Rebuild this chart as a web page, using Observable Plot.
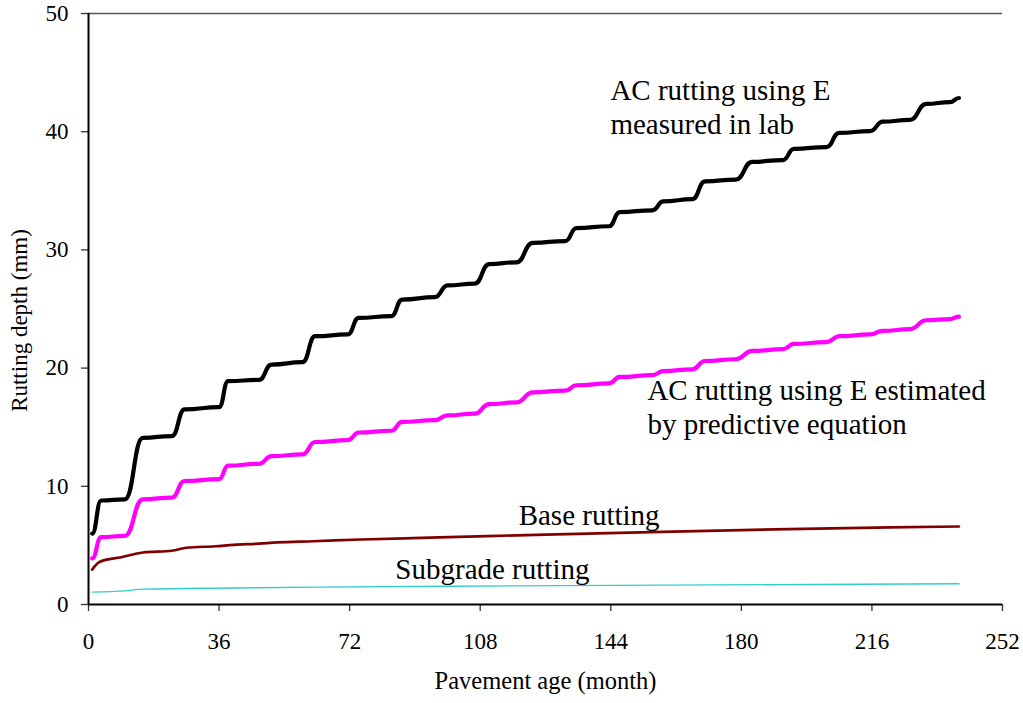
<!DOCTYPE html>
<html>
<head>
<meta charset="utf-8">
<script src="https://cdn.jsdelivr.net/npm/d3@7"></script>
<script src="https://cdn.jsdelivr.net/npm/@observablehq/plot@0.6"></script>
<style>
  html, body { margin: 0; padding: 0; background: #fff; }
  #chart svg { display: block; }
</style>
</head>
<body>
<div id="chart"></div>
<script>
// Rutting depth (mm) against pavement age (month).
// The AC layer curves rise mostly during each summer and level off in between,
// so each year is described by the start and end of its flat stretch.
const acMonths = [1, 3.5, 10, 15, 23, 26.5, 36, 38.5, 47, 50.5, 59, 62.5, 71.5, 74.5,
  83.5, 86.5, 95.5, 99, 106.5, 110.5, 118, 122.5, 131.5, 134.5, 143.5, 146.5,
  155.5, 158.5, 166.5, 170, 178.5, 183, 191.5, 194.5, 203.5, 207, 215.5, 219,
  226.5, 231, 237.5, 240];

const acLab = [6.0, 8.8, 8.9, 14.1, 14.25, 16.5, 16.7, 18.9, 19.0, 20.3, 20.5, 22.7, 22.85, 24.25,
  24.4, 25.8, 26.0, 27.0, 27.15, 28.8, 28.95, 30.6, 30.75, 31.85, 32.0, 33.2,
  33.35, 34.1, 34.3, 35.8, 35.95, 37.45, 37.6, 38.55, 38.7, 39.9, 40.05, 40.85,
  41.0, 42.35, 42.5, 42.85];

const acPredicted = [3.9, 5.7, 5.8, 8.9, 9.05, 10.45, 10.6, 11.75, 11.9, 12.55, 12.7, 13.75, 13.9, 14.55,
  14.7, 15.45, 15.6, 16.0, 16.15, 16.95, 17.1, 17.95, 18.1, 18.55, 18.7, 19.25,
  19.4, 19.75, 19.9, 20.6, 20.75, 21.45, 21.6, 22.05, 22.2, 22.7, 22.85, 23.15,
  23.3, 24.05, 24.15, 24.35];

const baseMonths = [1, 3, 9, 15, 23, 27, 35, 40, 47, 52, 62, 75, 94, 126, 158, 189, 221, 240];
const baseRut = [2.95, 3.6, 4.0, 4.4, 4.55, 4.8, 4.93, 5.05, 5.15, 5.25, 5.35, 5.5, 5.65, 5.92, 6.15, 6.35, 6.52, 6.6];

const subgradeMonths = [1, 10, 15, 40, 63, 100, 158, 240];
const subgradeRut = [1.05, 1.15, 1.3, 1.4, 1.47, 1.55, 1.64, 1.75];

const xTicks = [0, 36, 72, 108, 144, 180, 216, 252];
const yTicks = [0, 10, 20, 30, 40, 50];

const seriesNames = [
  "AC rutting using E measured in lab",
  "AC rutting using E estimated by predictive equation",
  "Base rutting",
  "Subgrade rutting"
];

// Stepped AC curves use horizontal tangents at every plateau end (bump-x);
// the slowly growing base and subgrade curves use a plain monotone spline.
const curves = [
  {name: seriesNames[0], months: acMonths, values: acLab, stroke: "#000000", width: 4.2, curve: "bump-x"},
  {name: seriesNames[1], months: acMonths, values: acPredicted, stroke: "#ff00ff", width: 4.2, curve: "bump-x"},
  {name: seriesNames[2], months: baseMonths, values: baseRut, stroke: "#800000", width: 2.7, curve: "monotone-x"},
  {name: seriesNames[3], months: subgradeMonths, values: subgradeRut, stroke: "#33cccc", width: 1.4, curve: "monotone-x"}
];

const toRows = (c) => c.months.map((m, i) => ({series: c.name, month: m, depth: c.values[i]}));

// Curve captions, placed in chart units
const captions = [
  {text: "AC rutting using E\nmeasured in lab", month: 143.9, depth: 42.17},
  {text: "AC rutting using E estimated\nby predictive equation", month: 154.1, depth: 16.77},
  {text: "Base rutting", month: 118.6, depth: 7.61},
  {text: "Subgrade rutting", month: 84.6, depth: 3.10}
];

const serif = "'Liberation Serif', 'Times New Roman', Times, serif";

const chart = Plot.plot({
  width: 1023,
  height: 703,
  marginLeft: 88,
  marginRight: 21,
  marginTop: 13,
  marginBottom: 99,
  style: {fontFamily: serif, background: "#fff", color: "#000", overflow: "visible"},
  x: {domain: [0, 252], label: null},
  y: {domain: [0, 50], label: null},
  marks: [
    Plot.ruleY([50], {stroke: "#555", strokeWidth: 1.3}),
    Plot.axisX({ticks: xTicks, tickSize: 7, tickPadding: 21, fontSize: 23, stroke: "#333", strokeWidth: 1.3, label: null}),
    Plot.axisY({ticks: yTicks, tickSize: 7, tickPadding: 13, fontSize: 23, stroke: "#333", strokeWidth: 1.3, label: null}),
    Plot.ruleX([0], {stroke: "#000", strokeWidth: 2}),
    Plot.ruleY([0], {stroke: "#000", strokeWidth: 2}),
    ...curves.slice().reverse().map(c =>
      Plot.line(toRows(c), {x: "month", y: "depth", stroke: c.stroke, strokeWidth: c.width, curve: c.curve})
    ),
    Plot.text(captions, {x: "month", y: "depth", text: "text", textAnchor: "start", lineAnchor: "middle",
      fontSize: 29, lineHeight: 1.17, fill: "#000"}),
    Plot.text(["Pavement age (month)"], {frameAnchor: "bottom", textAnchor: "middle", dy: 84, fontSize: 24.5, fill: "#000"}),
    Plot.text(["Rutting depth (mm)"], {frameAnchor: "left", textAnchor: "middle", dx: -69, dy: 11.5, rotate: -90, fontSize: 23, fill: "#000"})
  ]
});

document.getElementById("chart").appendChild(chart);
</script>
</body>
</html>
